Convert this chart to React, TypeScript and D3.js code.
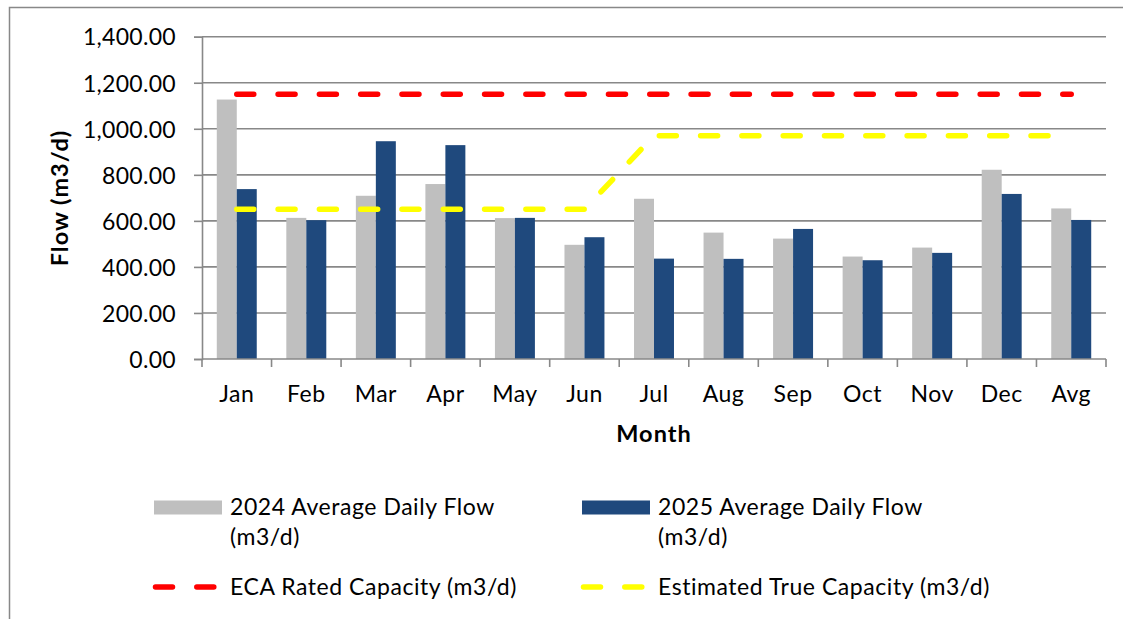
import React, { useRef, useEffect } from 'react';
import * as d3 from 'd3';

const months = ['Jan', 'Feb', 'Mar', 'Apr', 'May', 'Jun', 'Jul', 'Aug', 'Sep', 'Oct', 'Nov', 'Dec', 'Avg'];
const flow2024 = [1127, 613, 709, 760, 612, 496, 696, 549, 523, 445, 484, 822, 654];
const flow2025 = [738, 603, 946, 929, 613, 529, 436, 435, 565, 429, 461, 717, 604];
const ecaCapacity = [1150, 1150, 1150, 1150, 1150, 1150, 1150, 1150, 1150, 1150, 1150, 1150, 1150];
const trueCapacity = [650, 650, 650, 650, 650, 650, 970, 970, 970, 970, 970, 970, 970];
const yTicks = [0, 200, 400, 600, 800, 1000, 1200, 1400];

const FONT = 'Lato, "Open Sans", sans-serif';

function App() {
    const svgRef = useRef<SVGSVGElement>(null);

    useEffect(() => {
        const svg = d3.select(svgRef.current);
        svg.selectAll('*').remove();

        const plot = { left: 202, right: 1106, top: 36.7, bottom: 359 };

        // outer frame (runs off right and bottom like the original crop)
        svg.append('rect')
            .attr('x', 9.5).attr('y', 7.5)
            .attr('width', 1200).attr('height', 700)
            .attr('fill', 'white')
            .attr('stroke', '#888').attr('stroke-width', 1.5);

        const x = d3.scaleBand().domain(months).range([plot.left, plot.right]).padding(0);
        const inner = d3.scaleBand().domain(['a', 'b']).range([0, x.bandwidth()])
            .paddingInner(0).paddingOuter(0.74);
        const y = d3.scaleLinear().domain([0, 1400]).range([plot.bottom, plot.top]);

        // gridlines
        svg.append('g').selectAll('line')
            .data(yTicks.filter(d => d > 0))
            .join('line')
            .attr('x1', plot.left).attr('x2', plot.right)
            .attr('y1', d => y(d)).attr('y2', d => y(d))
            .attr('stroke', '#888').attr('stroke-width', 1.6);

        // bars
        const bars = svg.append('g');
        bars.selectAll('.b24')
            .data(flow2024)
            .join('rect')
            .attr('x', (d, i) => x(months[i])! + inner('a')!)
            .attr('width', inner.bandwidth())
            .attr('y', d => y(d))
            .attr('height', d => y(0) - y(d))
            .attr('fill', '#bfbfbf');
        bars.selectAll('.b25')
            .data(flow2025)
            .join('rect')
            .attr('x', (d, i) => x(months[i])! + inner('b')!)
            .attr('width', inner.bandwidth())
            .attr('y', d => y(d))
            .attr('height', d => y(0) - y(d))
            .attr('fill', '#1f497d');

        // y axis
        const yAxis = d3.axisLeft(y)
            .tickValues(yTicks)
            .tickSize(8)
            .tickPadding(18)
            .tickFormat(d3.format(',.2f'));
        const gy = svg.append('g')
            .attr('transform', `translate(${plot.left},0)`)
            .call(yAxis);
        gy.select('.domain').attr('stroke', '#888').attr('stroke-width', 1.6);
        gy.selectAll('.tick line').attr('stroke', '#888').attr('stroke-width', 1.6);
        gy.selectAll('.tick text')
            .attr('font-family', FONT).attr('font-size', 23).attr('fill', '#000')
            .attr('letter-spacing', 0.3)
            .attr('dy', '0.36em');

        // x axis
        const gx = svg.append('g')
            .attr('transform', `translate(0,${plot.bottom})`);
        gx.append('line')
            .attr('x1', plot.left).attr('x2', plot.right)
            .attr('stroke', '#888').attr('stroke-width', 1.6);
        gx.selectAll('.xt')
            .data([...months.map(m => x(m)!), plot.right])
            .join('line')
            .attr('x1', d => d).attr('x2', d => d)
            .attr('y1', 0).attr('y2', 8)
            .attr('stroke', '#888').attr('stroke-width', 1.6);
        gx.selectAll('text')
            .data(months)
            .join('text')
            .attr('x', d => x(d)! + x.bandwidth() / 2)
            .attr('y', 43)
            .attr('text-anchor', 'middle')
            .attr('font-family', FONT).attr('font-size', 23)
            .attr('letter-spacing', 0.5)
            .text(d => d);

        // capacity lines
        const line = d3.line<number>()
            .x((d, i) => x(months[i])! + x.bandwidth() / 2)
            .y(d => y(d));
        svg.append('path')
            .attr('d', line(trueCapacity))
            .attr('fill', 'none').attr('stroke', '#ffff00')
            .attr('stroke-width', 5.5).attr('stroke-linecap', 'round')
            .attr('stroke-dasharray', '17 24.3');
        svg.append('path')
            .attr('d', line(ecaCapacity))
            .attr('fill', 'none').attr('stroke', '#ff0000')
            .attr('stroke-width', 5.5).attr('stroke-linecap', 'round')
            .attr('stroke-dasharray', '17 24.3');

        // axis titles
        svg.append('text')
            .attr('x', (plot.left + plot.right) / 2).attr('y', 442)
            .attr('text-anchor', 'middle')
            .attr('font-family', FONT).attr('font-size', 23.5).attr('font-weight', 'bold')
            .attr('letter-spacing', 1)
            .text('Month');
        svg.append('text')
            .attr('transform', `translate(68,198) rotate(-90)`)
            .attr('text-anchor', 'middle')
            .attr('font-family', FONT).attr('font-size', 23.5).attr('font-weight', 'bold')
            .attr('letter-spacing', 1)
            .text('Flow (m3/d)');

        // legend
        const lg = svg.append('g').attr('font-family', FONT).attr('font-size', 23)
            .attr('letter-spacing', 0.55);
        lg.append('rect').attr('x', 154).attr('y', 500.5).attr('width', 68).attr('height', 14).attr('fill', '#bfbfbf');
        lg.append('text').attr('x', 230).attr('y', 515).text('2024 Average Daily Flow');
        lg.append('text').attr('x', 230).attr('y', 545).text('(m3/d)');
        lg.append('rect').attr('x', 582).attr('y', 500.5).attr('width', 68).attr('height', 14).attr('fill', '#1f497d');
        lg.append('text').attr('x', 658).attr('y', 515).text('2025 Average Daily Flow');
        lg.append('text').attr('x', 658).attr('y', 545).text('(m3/d)');
        lg.append('line').attr('x1', 155.5).attr('x2', 215).attr('y1', 587).attr('y2', 587)
            .attr('stroke', '#ff0000').attr('stroke-width', 5.5).attr('stroke-linecap', 'round')
            .attr('stroke-dasharray', '17 24.3');
        lg.append('text').attr('x', 230).attr('y', 595).text('ECA Rated Capacity (m3/d)');
        lg.append('line').attr('x1', 583.5).attr('x2', 643).attr('y1', 587).attr('y2', 587)
            .attr('stroke', '#ffff00').attr('stroke-width', 5.5).attr('stroke-linecap', 'round')
            .attr('stroke-dasharray', '17 24.3');
        lg.append('text').attr('x', 658).attr('y', 595).text('Estimated True Capacity (m3/d)');
    }, []);

    return (
        <svg ref={svgRef} width={1123} height={619}
            style={{ position: 'absolute', left: 0, top: 0, background: '#fff' }} />
    );
}

export default App;
